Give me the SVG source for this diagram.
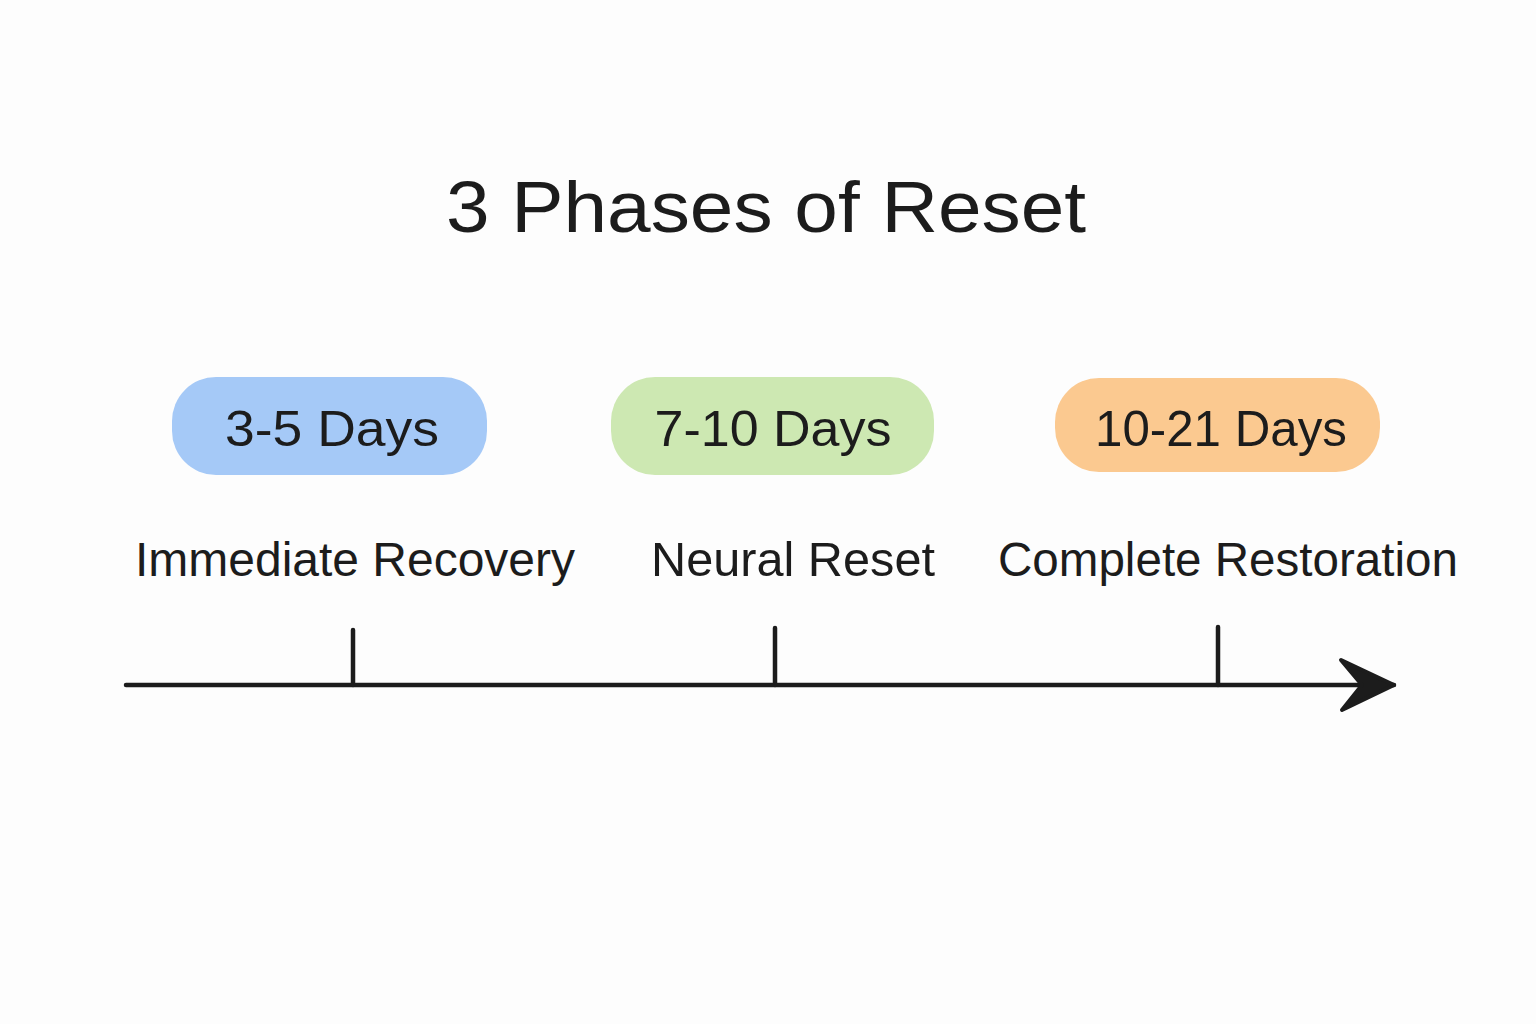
<svg xmlns="http://www.w3.org/2000/svg" width="1536" height="1024" viewBox="0 0 1536 1024">
<style>
text{font-family:"Liberation Sans","DejaVu Sans",sans-serif;fill:#1c1c1c;text-anchor:middle}
.title{font-size:72px}
.pill{font-size:50px}
.lbl{font-size:48px}
.ax{stroke:#1c1c1c;stroke-width:4.5;stroke-linecap:round;fill:none}
</style>
<defs>
<marker id="arr" viewBox="0 0 60 56" refX="56" refY="28" markerWidth="60" markerHeight="56" markerUnits="userSpaceOnUse" orient="auto">
<path d="M3,3 L56,28 L4,53 L24,28 Z" fill="#1c1c1c" stroke="#1c1c1c" stroke-width="4" stroke-linejoin="round"/>
</marker>
</defs>
<rect width="1536" height="1024" fill="#fdfdfd"/>
<text class="title" x="766" y="232" textLength="640" lengthAdjust="spacingAndGlyphs">3 Phases of Reset</text>
<g id="phase1">
<rect x="172" y="377" width="315" height="98" rx="44" fill="#a5c9f7"/>
<text class="pill" x="332" y="446" textLength="214" lengthAdjust="spacingAndGlyphs">3-5 Days</text>
<text class="lbl" x="355" y="576" textLength="440" lengthAdjust="spacingAndGlyphs">Immediate Recovery</text>
</g>
<g id="phase2">
<rect x="611" y="377" width="323" height="98" rx="44" fill="#cde8b2"/>
<text class="pill" x="773" y="446" textLength="237" lengthAdjust="spacingAndGlyphs">7-10 Days</text>
<text class="lbl" x="793" y="576" textLength="284" lengthAdjust="spacingAndGlyphs">Neural Reset</text>
</g>
<g id="phase3">
<rect x="1055" y="378" width="325" height="94" rx="44" fill="#fbc990"/>
<text class="pill" x="1221" y="446" textLength="252" lengthAdjust="spacingAndGlyphs">10-21 Days</text>
<text class="lbl" x="1228" y="576" textLength="460" lengthAdjust="spacingAndGlyphs">Complete Restoration</text>
</g>
<g id="connectors">
<line class="ax" x1="126" y1="685" x2="1394" y2="685" marker-end="url(#arr)"/>
<line class="ax" x1="353" y1="630" x2="353" y2="685"/>
<line class="ax" x1="775" y1="628" x2="775" y2="685"/>
<line class="ax" x1="1218" y1="627" x2="1218" y2="685"/>
</g>
</svg>
